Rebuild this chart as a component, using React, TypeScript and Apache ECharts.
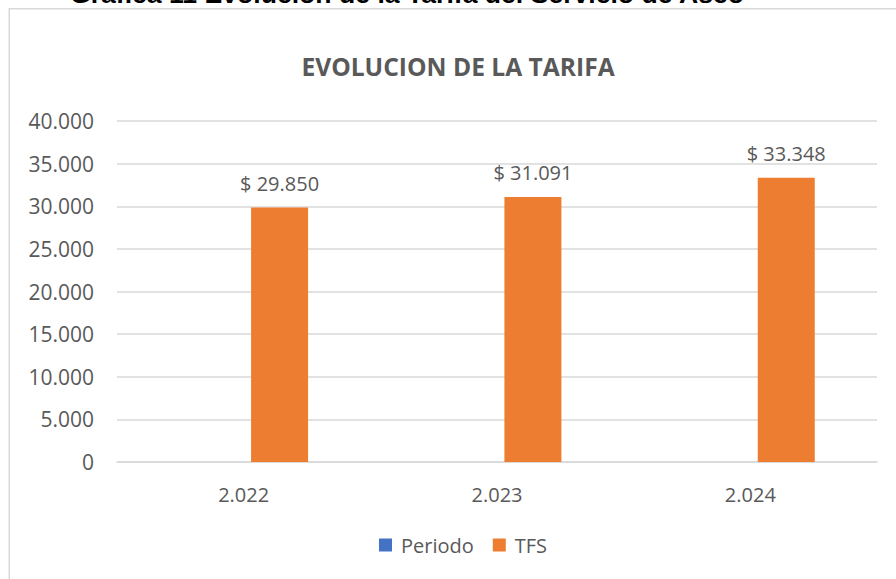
import React, { useEffect, useRef } from "react";
import * as echarts from "echarts";

const pageTitle = "Grafica 11 Evolucion de la Tarifa del Servicio de Aseo";
const chartTitle = "EVOLUCION DE LA TARIFA";
const categories = ["2.022", "2.023", "2.024"];
const periodoValues: (number | null)[] = [null, null, null];
const tfsValues = [29850, 31091, 33348];
const yMin = 0;
const yMax = 40000;
const yInterval = 5000;

const fmt = (n: number) =>
  String(Math.round(n)).replace(/\B(?=(\d{3})+(?!\d))/g, ".");

const TEXT = "#595959";
const FONT = "'Open Sans', sans-serif";

export default function App() {
  const ref = useRef<HTMLDivElement>(null);
  useEffect(() => {
    if (!ref.current) return;
    const chart = echarts.init(ref.current, undefined, { renderer: "svg" });
    chart.setOption({
      animation: false,
      backgroundColor: "#ffffff",
      textStyle: { fontFamily: FONT },
      graphic: [
        {
          type: "rect",
          z: -10,
          shape: { x: 9.25, y: 8.75, width: 1000, height: 700 },
          style: { fill: "none", stroke: "#D9D9D9", lineWidth: 1.5 },
        },
        {
          type: "text",
          x: 70,
          y: -6.5,
          style: {
            text: pageTitle,
            fill: "#000000",
            font: "bold 26.6px 'Liberation Sans', Arial, sans-serif",
            textAlign: "left",
            textVerticalAlign: "middle",
          },
        },
        {
          type: "text",
          x: 458,
          y: 66,
          style: {
            text: chartTitle,
            fill: TEXT,
            font: "bold 24.6px 'Open Sans', sans-serif",
            textAlign: "center",
            textVerticalAlign: "middle",
          },
        },
      ],
      legend: {
        left: 374,
        top: 530,
        itemWidth: 13,
        itemHeight: 13,
        itemGap: 19,
        icon: "rect",
        textStyle: { color: TEXT, fontSize: 20, fontFamily: FONT, padding: [0, 0, 0, 4] },
        data: ["Periodo", "TFS"],
      },
      grid: { left: 117, right: 19, top: 121, bottom: 117, containLabel: false },
      xAxis: {
        type: "category",
        data: categories,
        axisLine: { show: true, lineStyle: { color: "#D9D9D9", width: 1.5 } },
        axisTick: { show: false },
        axisLabel: { color: TEXT, fontSize: 20, fontFamily: FONT, margin: 22 },
      },
      yAxis: {
        type: "value",
        min: yMin,
        max: yMax,
        interval: yInterval,
        axisLine: { show: false },
        axisTick: { show: false },
        splitLine: { lineStyle: { color: "#D9D9D9", width: 1.5 } },
        axisLabel: {
          color: TEXT,
          fontSize: 21,
          fontFamily: FONT,
          margin: 23,
          formatter: (v: number) => fmt(v),
        },
      },
      series: [
        {
          name: "Periodo",
          type: "bar",
          data: periodoValues,
          barWidth: 57,
          barGap: "26%",
          itemStyle: { color: "#4472C4" },
        },
        {
          name: "TFS",
          type: "bar",
          data: tfsValues,
          barWidth: 57,
          barGap: "26%",
          itemStyle: { color: "#ED7D31" },
          label: {
            show: true,
            position: "top",
            distance: 14,
            color: TEXT,
            fontSize: 20,
            fontFamily: FONT,
            formatter: (p: any) => "$ " + fmt(p.value),
          },
        },
      ],
    });
    return () => chart.dispose();
  }, []);
  return (
    <div
      ref={ref}
      style={{ position: "fixed", left: 0, top: 0, width: 896, height: 579 }}
    />
  );
}
